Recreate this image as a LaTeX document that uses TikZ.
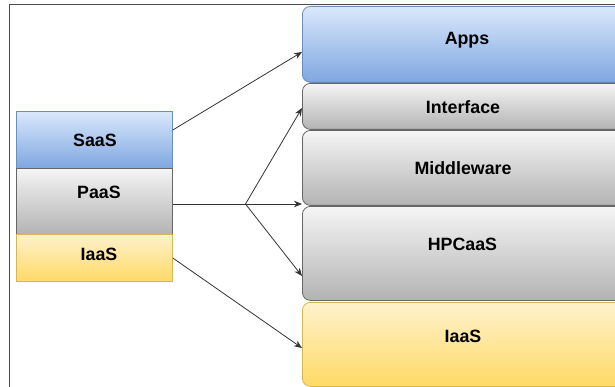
\documentclass[tikz,border=0pt]{standalone}
\usepackage{fontspec}
\setmainfont{Liberation Sans}
\usetikzlibrary{arrows.meta}
\definecolor{blueT}{HTML}{DAE8FC}
\definecolor{blueB}{HTML}{7EA6E0}
\definecolor{blueS}{HTML}{6C8EBF}
\definecolor{grayT}{HTML}{F5F5F5}
\definecolor{grayB}{HTML}{B3B3B3}
\definecolor{grayS}{HTML}{666666}
\definecolor{yelT}{HTML}{FFF2CC}
\definecolor{yelB}{HTML}{FFD966}
\definecolor{yelS}{HTML}{D6B656}
\tikzset{
  box/.style={draw, line width=0.8pt, anchor=north west, inner sep=0pt},
  bluebox/.style={box, draw=blueS, top color=blueT, bottom color=blueB},
  graybox/.style={box, draw=grayS, top color=grayT, bottom color=grayB},
  yelbox/.style={box, draw=yelS, top color=yelT, bottom color=yelB},
  leftw/.style={minimum width=156pt},
  rightw/.style={minimum width=340pt, rounded corners=8pt},
  lbl/.style={anchor=base, inner sep=0pt, font=\fontsize{17.8}{20}\selectfont\bfseries},
  arr/.style={draw=black!80, line width=0.8pt, -{Stealth[length=8pt,width=6.5pt]}},
  frame/.style={draw=black!70, line width=1pt}
}
\begin{document}
\begin{tikzpicture}[x=1pt,y=-1pt]
\useasboundingbox (0,0) rectangle (615,387);
\begin{scope}
\clip (0,0) rectangle (615,387);
% frame
\coordinate (fa) at (9,388);
\coordinate (fb) at (9,5);
\coordinate (fc) at (616,5);
\draw[frame] (fa) -- (fb) -- (fc);
% left stack
\node[bluebox, leftw, minimum height=57pt] (saas) at (16,111) {};
\node[graybox, leftw, minimum height=66pt] (paas) at (16,168) {};
\node[yelbox, leftw, minimum height=47pt] (iaasL) at (16,234) {};
% right stack
\node[bluebox, rightw, minimum height=76pt] (apps) at (302,6) {};
\node[graybox, rightw, minimum height=46pt] (iface) at (302,83) {};
\node[graybox, rightw, minimum height=75pt] (mw) at (302,130) {};
\node[graybox, rightw, minimum height=94pt] (hpc) at (302,206) {};
\node[yelbox, rightw, minimum height=84pt] (iaasR) at (302,302) {};
\end{scope}
\node[lbl] (saasT) at (95,146.5) {SaaS};
\node[lbl] (paasT) at (99,199) {PaaS};
\node[lbl] (iaasLT) at (99,260.5) {IaaS};
\node[lbl] (appsT) at (467,44.5) {Apps};
\node[lbl] (ifaceT) at (463,113.5) {Interface};
\node[lbl] (mwT) at (463,175) {Middleware};
\node[lbl] (hpcT) at (462.5,251) {HPCaaS};
\node[lbl] (iaasRT) at (463,342) {IaaS};
% connectors
\coordinate (br) at (245.5,204);
\draw[arr] (saas.east |- 0,130) -- (apps.west |- 0,52);
\draw[arr] (paas.east |- 0,204) -- (mw.west |- 0,204);
\draw[arr] (br) -- (iface.west |- 0,108);
\draw[arr] (br) -- (hpc.west |- 0,276);
\draw[arr] (iaasL.east |- 0,258) -- (iaasR.west |- 0,348);
\end{tikzpicture}
\end{document}
